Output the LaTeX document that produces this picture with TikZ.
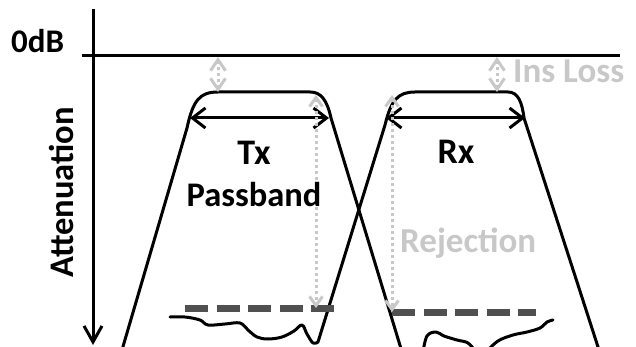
\documentclass[tikz,border=0pt]{standalone}
\usepackage{fontspec}
\setmainfont{Carlito}
\usetikzlibrary{arrows.meta}
\definecolor{lg}{HTML}{C8C8C8}
\definecolor{dg}{HTML}{505050}
\begin{document}
\begin{tikzpicture}[x=1pt,y=-1pt,
  curve/.style={line width=3pt, line join=round, line cap=round},
  axisline/.style={line width=3pt},
  wband/.style={line width=3pt, {Straight Barb[length=13pt,width=20pt]}-{Straight Barb[length=13pt,width=20pt]}},
  ilmark/.style={lg, line width=3pt, dash pattern=on 3pt off 3pt, {Straight Barb[length=11pt,width=15pt]}-{Straight Barb[length=11pt,width=15pt]}},
  rejmark/.style={lg, line width=3pt, dash pattern=on 3pt off 3pt, {Straight Barb[length=9pt,width=13pt]}-{Straight Barb[length=9pt,width=13pt]}},
  stopdash/.style={dg, line width=7pt, dash pattern=on 23pt off 8.5pt},
  lbl/.style={font=\bfseries\fontsize{35}{40}\selectfont, inner sep=0pt},
  glbl/.style={lbl, text=lg},
  axlbl/.style={font=\bfseries\fontsize{34.5}{40}\selectfont, inner sep=0pt}]
\useasboundingbox (0,0) rectangle (636,347);

% axes
\coordinate (ytop) at (93,9);
\coordinate (ybot) at (93,345);
\coordinate (zl) at (82,56);
\coordinate (zr) at (620,56);
\draw[axisline, -{Straight Barb[length=16pt,width=18pt]}] (ytop) -- (ybot);
\draw[axisline] (zl) -- (zr);

\begin{scope}
\clip (0,0) rectangle (636,347);
% Tx filter response
\draw[curve] (122,350) -- (187,128) .. controls (193,100) and (200,92) .. (218,92)
  -- (310,92) .. controls (321,92) and (327,100) .. (331,118) -- (402,352);
% Tx stopband + Rx response
\draw[curve] plot[smooth, tension=0.6] coordinates {(170,317) (185,317) (200,320) (208,325) (225,324) (240,323) (248,330) (257,337) (268,339) (282,337) (294,331) (302,325) (307,334) (313,343) (318,342)}
  -- (385,125) .. controls (391,100) and (398,92) .. (415,92)
  -- (508,92) .. controls (518,92) and (522,102) .. (524,118) -- (599,350);
% Rx stopband
\draw[curve] plot[smooth, tension=0.6] coordinates {(423,352) (427,336) (436,332) (444,336) (457,340) (468,343) (476,352)};
\draw[curve] plot[smooth, tension=0.6] coordinates {(486,352) (498,341) (513,335) (527,332) (540,328) (547,322) (553,320)};
\end{scope}

% rejection levels
\coordinate (tdl) at (185,308);
\coordinate (tdr) at (334,308);
\coordinate (rdl) at (392,312);
\coordinate (rdr) at (536,312);
\draw[stopdash] (tdl) -- (tdr);
\draw[stopdash] (rdl) -- (rdr);

% passband width arrows
\coordinate (txl) at (190,118);
\coordinate (txr) at (329,118);
\coordinate (rxl) at (386,118);
\coordinate (rxr) at (525,118);
\draw[wband] (txl) -- (txr);
\draw[wband] (rxl) -- (rxr);

% insertion loss markers
\coordinate (il1t) at (218,57);
\coordinate (il1b) at (218,92);
\coordinate (il2t) at (497,57);
\coordinate (il2b) at (497,92);
\draw[ilmark] (il1t) -- (il1b);
\draw[ilmark] (il2t) -- (il2b);

% rejection markers
\coordinate (rj1t) at (316,95);
\coordinate (rj1b) at (316,308);
\coordinate (rj2t) at (392,95);
\coordinate (rj2b) at (392,312);
\draw[rejmark] (rj1t) -- (rj1b);
\draw[rejmark] (rj2t) -- (rj2b);

% labels
\node[lbl, anchor=base west, font=\bfseries\fontsize{33}{38}\selectfont] (odb) at (11,53) {0dB};
\node[axlbl, anchor=base west, rotate=90] (att) at (73,278) {Attenuation};
\node[lbl, anchor=base, font=\bfseries\fontsize{36}{40}\selectfont] (tx) at (254,165) {Tx};
\node[lbl, anchor=base, font=\bfseries\fontsize{34.5}{40}\selectfont] (pb) at (254,207) {Passband};
\node[lbl, anchor=base, font=\bfseries\fontsize{36}{40}\selectfont] (rx) at (456,164) {Rx};
\node[glbl, anchor=base west] (rej) at (400,252) {Rejection};
\node[glbl, anchor=base west] (ins) at (513,83) {Ins Loss};
\end{tikzpicture}
\end{document}
